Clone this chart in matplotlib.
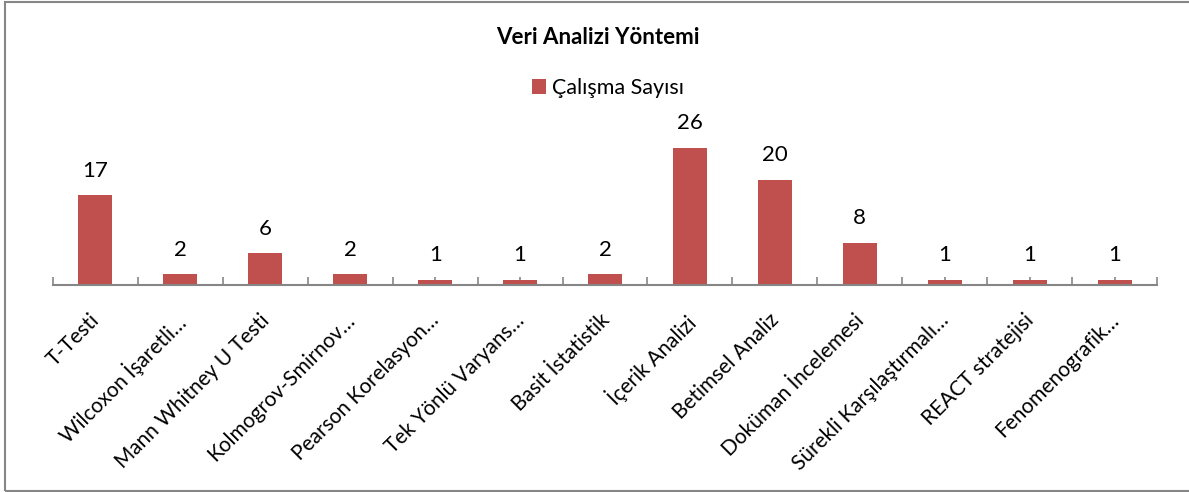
import matplotlib
matplotlib.use("Agg")
import matplotlib.pyplot as plt
from matplotlib.patches import Rectangle
from matplotlib.ticker import FixedLocator
from matplotlib.transforms import ScaledTranslation
import numpy as np

plt.rcParams['font.family'] = ['Lato', 'DejaVu Sans']

title = "Veri Analizi Yöntemi"
series_name = "Çalışma Sayısı"
categories = [
    "T-Testi",
    "Wilcoxon İşaretli…",
    "Mann Whitney U Testi",
    "Kolmogrov-Smirnov…",
    "Pearson Korelasyon…",
    "Tek Yönlü Varyans…",
    "Basit İstatistik",
    "İçerik Analizi",
    "Betimsel Analiz",
    "Doküman İncelemesi",
    "Sürekli Karşılaştırmalı…",
    "REACT stratejisi",
    "Fenomenografik…",
]
counts = [17, 2, 6, 2, 1, 1, 2, 26, 20, 8, 1, 1, 1]

bar_color = "#C0504D"
axis_gray = "#868686"

fig = plt.figure(figsize=(11.89, 4.92), dpi=100)
ax = fig.add_axes([53 / 1189, 207 / 492, (1157 - 53) / 1189, 158 / 492])

x = np.arange(len(categories))
bars = ax.bar(x, counts, width=0.4, color=bar_color, label=series_name, zorder=2)

for xi, v in zip(x, counts):
    ax.annotate(str(v), (xi, v), xytext=(0, 10.5), textcoords="offset points",
                ha="center", va="bottom", fontsize=16, color="black")

ax.set_xlim(-0.5, len(categories) - 0.5)
ax.set_ylim(0, 30)
ax.set_yticks([])
for side in ("top", "right", "left"):
    ax.spines[side].set_visible(False)
ax.spines["bottom"].set_color(axis_gray)
ax.spines["bottom"].set_linewidth(1.5)

ax.set_xticks(x)
ax.set_xticklabels(categories, rotation=45, ha="right", va="top",
                   rotation_mode="anchor", fontsize=15)
ax.xaxis.set_minor_locator(FixedLocator(np.arange(-0.5, len(categories), 1.0)))
ax.tick_params(axis="x", which="both", direction="in", length=6, width=1.2,
               color=axis_gray, pad=13)

# nudge the slanted category labels slightly down and to the left
shift = ScaledTranslation(-6 / 100, -7 / 100, fig.dpi_scale_trans)
for lbl in ax.get_xticklabels():
    lbl.set_transform(lbl.get_transform() + shift)

fig.text(0.5025, 1 - 37 / 492, title, ha="center", va="center",
         fontsize=16, fontweight="bold")
fig.legend(handles=[bars], labels=[series_name], loc="center",
           bbox_to_anchor=(608 / 1189, 1 - 88 / 492), frameon=False, fontsize=15.5,
           handlelength=0.65, handleheight=0.65, handletextpad=0.3)

fig.add_artist(Rectangle((4.5 / 1189, 1.5 / 492), 1.0, 1 - 3 / 492,
                         transform=fig.transFigure, fill=False,
                         edgecolor=axis_gray, linewidth=1.5))

fig.savefig("out.png", dpi=100)
